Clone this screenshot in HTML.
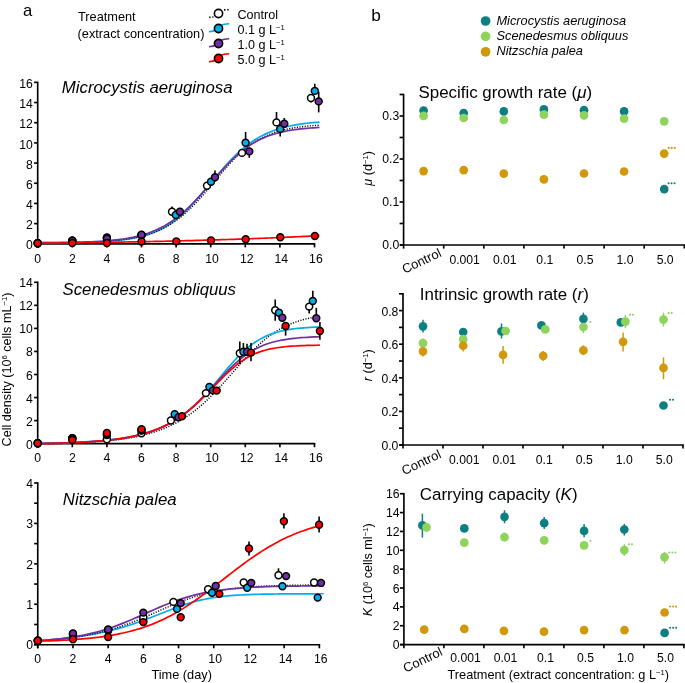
<!DOCTYPE html>
<html><head><meta charset="utf-8"><style>
html,body{margin:0;padding:0;background:#fff;}
svg{display:block;will-change:transform;}
text{font-family:"Liberation Sans", sans-serif;fill:#000;}
</style></head><body>
<svg width="685" height="683" viewBox="0 0 685 683">
<rect width="685" height="683" fill="#fff"/>
<line x1="37.70" y1="81.64" x2="37.70" y2="247.40" stroke="#000" stroke-width="1.65" stroke-linecap="butt"/>
<line x1="34.10" y1="243.80" x2="315.32" y2="243.80" stroke="#000" stroke-width="1.65" />
<line x1="34.10" y1="243.80" x2="37.70" y2="243.80" stroke="#000" stroke-width="1.65" />
<line x1="34.10" y1="223.62" x2="37.70" y2="223.62" stroke="#000" stroke-width="1.65" />
<line x1="34.10" y1="203.44" x2="37.70" y2="203.44" stroke="#000" stroke-width="1.65" />
<line x1="34.10" y1="183.26" x2="37.70" y2="183.26" stroke="#000" stroke-width="1.65" />
<line x1="34.10" y1="163.08" x2="37.70" y2="163.08" stroke="#000" stroke-width="1.65" />
<line x1="34.10" y1="142.90" x2="37.70" y2="142.90" stroke="#000" stroke-width="1.65" />
<line x1="34.10" y1="122.72" x2="37.70" y2="122.72" stroke="#000" stroke-width="1.65" />
<line x1="34.10" y1="102.54" x2="37.70" y2="102.54" stroke="#000" stroke-width="1.65" />
<line x1="34.10" y1="82.36" x2="37.70" y2="82.36" stroke="#000" stroke-width="1.65" />
<text x="32.90" y="249.40" font-size="12.2" text-anchor="end" >0</text>
<text x="32.90" y="229.22" font-size="12.2" text-anchor="end" >2</text>
<text x="32.90" y="209.04" font-size="12.2" text-anchor="end" >4</text>
<text x="32.90" y="188.86" font-size="12.2" text-anchor="end" >6</text>
<text x="32.90" y="168.68" font-size="12.2" text-anchor="end" >8</text>
<text x="32.90" y="148.50" font-size="12.2" text-anchor="end" >10</text>
<text x="32.90" y="128.32" font-size="12.2" text-anchor="end" >12</text>
<text x="32.90" y="108.14" font-size="12.2" text-anchor="end" >14</text>
<text x="32.90" y="87.96" font-size="12.2" text-anchor="end" >16</text>
<line x1="37.70" y1="243.80" x2="37.70" y2="247.40" stroke="#000" stroke-width="1.65" />
<text x="37.70" y="262.50" font-size="12.2" text-anchor="middle" >0</text>
<line x1="72.30" y1="243.80" x2="72.30" y2="247.40" stroke="#000" stroke-width="1.65" />
<text x="72.30" y="262.50" font-size="12.2" text-anchor="middle" >2</text>
<line x1="106.90" y1="243.80" x2="106.90" y2="247.40" stroke="#000" stroke-width="1.65" />
<text x="106.90" y="262.50" font-size="12.2" text-anchor="middle" >4</text>
<line x1="141.50" y1="243.80" x2="141.50" y2="247.40" stroke="#000" stroke-width="1.65" />
<text x="141.50" y="262.50" font-size="12.2" text-anchor="middle" >6</text>
<line x1="176.10" y1="243.80" x2="176.10" y2="247.40" stroke="#000" stroke-width="1.65" />
<text x="176.10" y="262.50" font-size="12.2" text-anchor="middle" >8</text>
<line x1="210.70" y1="243.80" x2="210.70" y2="247.40" stroke="#000" stroke-width="1.65" />
<text x="212.10" y="262.50" font-size="12.2" text-anchor="middle" >10</text>
<line x1="245.30" y1="243.80" x2="245.30" y2="247.40" stroke="#000" stroke-width="1.65" />
<text x="246.70" y="262.50" font-size="12.2" text-anchor="middle" >12</text>
<line x1="279.90" y1="243.80" x2="279.90" y2="247.40" stroke="#000" stroke-width="1.65" />
<text x="281.30" y="262.50" font-size="12.2" text-anchor="middle" >14</text>
<line x1="314.50" y1="243.80" x2="314.50" y2="247.40" stroke="#000" stroke-width="1.65" />
<text x="315.90" y="262.50" font-size="12.2" text-anchor="middle" >16</text>
<line x1="37.70" y1="281.57" x2="37.70" y2="447.25" stroke="#000" stroke-width="1.65" stroke-linecap="butt"/>
<line x1="34.10" y1="443.65" x2="315.32" y2="443.65" stroke="#000" stroke-width="1.65" />
<line x1="34.10" y1="443.65" x2="37.70" y2="443.65" stroke="#000" stroke-width="1.65" />
<line x1="34.10" y1="420.60" x2="37.70" y2="420.60" stroke="#000" stroke-width="1.65" />
<line x1="34.10" y1="397.55" x2="37.70" y2="397.55" stroke="#000" stroke-width="1.65" />
<line x1="34.10" y1="374.50" x2="37.70" y2="374.50" stroke="#000" stroke-width="1.65" />
<line x1="34.10" y1="351.45" x2="37.70" y2="351.45" stroke="#000" stroke-width="1.65" />
<line x1="34.10" y1="328.40" x2="37.70" y2="328.40" stroke="#000" stroke-width="1.65" />
<line x1="34.10" y1="305.35" x2="37.70" y2="305.35" stroke="#000" stroke-width="1.65" />
<line x1="34.10" y1="282.30" x2="37.70" y2="282.30" stroke="#000" stroke-width="1.65" />
<text x="32.90" y="448.65" font-size="12.2" text-anchor="end" >0</text>
<text x="32.90" y="425.60" font-size="12.2" text-anchor="end" >2</text>
<text x="32.90" y="402.55" font-size="12.2" text-anchor="end" >4</text>
<text x="32.90" y="379.50" font-size="12.2" text-anchor="end" >6</text>
<text x="32.90" y="356.45" font-size="12.2" text-anchor="end" >8</text>
<text x="32.90" y="333.40" font-size="12.2" text-anchor="end" >10</text>
<text x="32.90" y="310.35" font-size="12.2" text-anchor="end" >12</text>
<text x="32.90" y="287.30" font-size="12.2" text-anchor="end" >14</text>
<line x1="37.70" y1="443.65" x2="37.70" y2="447.25" stroke="#000" stroke-width="1.65" />
<text x="37.70" y="461.60" font-size="12.2" text-anchor="middle" >0</text>
<line x1="72.30" y1="443.65" x2="72.30" y2="447.25" stroke="#000" stroke-width="1.65" />
<text x="72.30" y="461.60" font-size="12.2" text-anchor="middle" >2</text>
<line x1="106.90" y1="443.65" x2="106.90" y2="447.25" stroke="#000" stroke-width="1.65" />
<text x="106.90" y="461.60" font-size="12.2" text-anchor="middle" >4</text>
<line x1="141.50" y1="443.65" x2="141.50" y2="447.25" stroke="#000" stroke-width="1.65" />
<text x="141.50" y="461.60" font-size="12.2" text-anchor="middle" >6</text>
<line x1="176.10" y1="443.65" x2="176.10" y2="447.25" stroke="#000" stroke-width="1.65" />
<text x="176.10" y="461.60" font-size="12.2" text-anchor="middle" >8</text>
<line x1="210.70" y1="443.65" x2="210.70" y2="447.25" stroke="#000" stroke-width="1.65" />
<text x="212.10" y="461.60" font-size="12.2" text-anchor="middle" >10</text>
<line x1="245.30" y1="443.65" x2="245.30" y2="447.25" stroke="#000" stroke-width="1.65" />
<text x="246.70" y="461.60" font-size="12.2" text-anchor="middle" >12</text>
<line x1="279.90" y1="443.65" x2="279.90" y2="447.25" stroke="#000" stroke-width="1.65" />
<text x="281.30" y="461.60" font-size="12.2" text-anchor="middle" >14</text>
<line x1="314.50" y1="443.65" x2="314.50" y2="447.25" stroke="#000" stroke-width="1.65" />
<text x="315.90" y="461.60" font-size="12.2" text-anchor="middle" >16</text>
<line x1="37.75" y1="482.26" x2="37.75" y2="648.30" stroke="#000" stroke-width="1.65" stroke-linecap="butt"/>
<line x1="34.15" y1="644.70" x2="320.18" y2="644.70" stroke="#000" stroke-width="1.65" />
<line x1="34.15" y1="644.70" x2="37.75" y2="644.70" stroke="#000" stroke-width="1.65" />
<line x1="34.15" y1="624.49" x2="37.75" y2="624.49" stroke="#000" stroke-width="1.65" />
<line x1="34.15" y1="604.27" x2="37.75" y2="604.27" stroke="#000" stroke-width="1.65" />
<line x1="34.15" y1="584.06" x2="37.75" y2="584.06" stroke="#000" stroke-width="1.65" />
<line x1="34.15" y1="563.84" x2="37.75" y2="563.84" stroke="#000" stroke-width="1.65" />
<line x1="34.15" y1="543.62" x2="37.75" y2="543.62" stroke="#000" stroke-width="1.65" />
<line x1="34.15" y1="523.41" x2="37.75" y2="523.41" stroke="#000" stroke-width="1.65" />
<line x1="34.15" y1="503.20" x2="37.75" y2="503.20" stroke="#000" stroke-width="1.65" />
<line x1="34.15" y1="482.98" x2="37.75" y2="482.98" stroke="#000" stroke-width="1.65" />
<text x="32.95" y="649.40" font-size="12.2" text-anchor="end" >0</text>
<text x="32.95" y="608.97" font-size="12.2" text-anchor="end" >1</text>
<text x="32.95" y="568.54" font-size="12.2" text-anchor="end" >2</text>
<text x="32.95" y="528.11" font-size="12.2" text-anchor="end" >3</text>
<text x="32.95" y="487.68" font-size="12.2" text-anchor="end" >4</text>
<line x1="37.75" y1="644.70" x2="37.75" y2="648.30" stroke="#000" stroke-width="1.65" />
<text x="37.75" y="662.80" font-size="12.2" text-anchor="middle" >0</text>
<line x1="72.95" y1="644.70" x2="72.95" y2="648.30" stroke="#000" stroke-width="1.65" />
<text x="72.95" y="662.80" font-size="12.2" text-anchor="middle" >2</text>
<line x1="108.15" y1="644.70" x2="108.15" y2="648.30" stroke="#000" stroke-width="1.65" />
<text x="108.15" y="662.80" font-size="12.2" text-anchor="middle" >4</text>
<line x1="143.35" y1="644.70" x2="143.35" y2="648.30" stroke="#000" stroke-width="1.65" />
<text x="143.35" y="662.80" font-size="12.2" text-anchor="middle" >6</text>
<line x1="178.55" y1="644.70" x2="178.55" y2="648.30" stroke="#000" stroke-width="1.65" />
<text x="178.55" y="662.80" font-size="12.2" text-anchor="middle" >8</text>
<line x1="213.75" y1="644.70" x2="213.75" y2="648.30" stroke="#000" stroke-width="1.65" />
<text x="215.15" y="662.80" font-size="12.2" text-anchor="middle" >10</text>
<line x1="248.95" y1="644.70" x2="248.95" y2="648.30" stroke="#000" stroke-width="1.65" />
<text x="250.35" y="662.80" font-size="12.2" text-anchor="middle" >12</text>
<line x1="284.15" y1="644.70" x2="284.15" y2="648.30" stroke="#000" stroke-width="1.65" />
<text x="285.55" y="662.80" font-size="12.2" text-anchor="middle" >14</text>
<line x1="319.35" y1="644.70" x2="319.35" y2="648.30" stroke="#000" stroke-width="1.65" />
<text x="320.75" y="662.80" font-size="12.2" text-anchor="middle" >16</text>
<path d="M37.70,242.50 L40.87,242.49 L44.03,242.47 L47.20,242.46 L50.37,242.45 L53.53,242.43 L56.70,242.41 L59.86,242.39 L63.03,242.36 L66.20,242.33 L69.36,242.29 L72.53,242.25 L75.70,242.21 L78.86,242.15 L82.03,242.09 L85.19,242.02 L88.36,241.94 L91.53,241.85 L94.69,241.74 L97.86,241.62 L101.03,241.48 L104.19,241.31 L107.36,241.13 L110.52,240.92 L113.69,240.67 L116.86,240.40 L120.02,240.08 L123.19,239.72 L126.36,239.30 L129.52,238.84 L132.69,238.30 L135.86,237.70 L139.02,237.01 L142.19,236.24 L145.35,235.36 L148.52,234.38 L151.69,233.28 L154.85,232.04 L158.02,230.67 L161.19,229.14 L164.35,227.45 L167.52,225.59 L170.68,223.55 L173.85,221.32 L177.02,218.90 L180.18,216.29 L183.35,213.49 L186.52,210.51 L189.68,207.35 L192.85,204.02 L196.01,200.55 L199.18,196.96 L202.35,193.26 L205.51,189.49 L208.68,185.66 L211.85,181.82 L215.01,177.99 L218.18,174.21 L221.34,170.48 L224.51,166.86 L227.68,163.34 L230.84,159.96 L234.01,156.74 L237.18,153.67 L240.34,150.78 L243.51,148.06 L246.68,145.52 L249.84,143.16 L253.01,140.98 L256.17,138.97 L259.34,137.12 L262.51,135.42 L265.67,133.88 L268.84,132.47 L272.01,131.20 L275.17,130.04 L278.34,129.00 L281.50,128.05 L284.67,127.21 L287.84,126.44 L291.00,125.76 L294.17,125.15 L297.34,124.60 L300.50,124.11 L303.67,123.67 L306.83,123.27 L310.00,122.92 L313.17,122.61 L316.33,122.33 L319.50,122.08" fill="none" stroke="#02AEEA" stroke-width="1.7"/>
<path d="M37.70,243.05 L40.87,243.03 L44.03,243.01 L47.20,242.99 L50.37,242.96 L53.53,242.93 L56.70,242.90 L59.86,242.86 L63.03,242.81 L66.20,242.77 L69.36,242.71 L72.53,242.65 L75.70,242.58 L78.86,242.50 L82.03,242.42 L85.19,242.32 L88.36,242.21 L91.53,242.08 L94.69,241.94 L97.86,241.79 L101.03,241.61 L104.19,241.41 L107.36,241.19 L110.52,240.94 L113.69,240.66 L116.86,240.35 L120.02,240.00 L123.19,239.60 L126.36,239.16 L129.52,238.67 L132.69,238.12 L135.86,237.50 L139.02,236.82 L142.19,236.05 L145.35,235.20 L148.52,234.25 L151.69,233.20 L154.85,232.03 L158.02,230.74 L161.19,229.32 L164.35,227.75 L167.52,226.04 L170.68,224.16 L173.85,222.12 L177.02,219.90 L180.18,217.50 L183.35,214.91 L186.52,212.15 L189.68,209.21 L192.85,206.09 L196.01,202.82 L199.18,199.39 L202.35,195.84 L205.51,192.19 L208.68,188.45 L211.85,184.67 L215.01,180.86 L218.18,177.06 L221.34,173.31 L224.51,169.62 L227.68,166.04 L230.84,162.58 L234.01,159.26 L237.18,156.11 L240.34,153.14 L243.51,150.35 L246.68,147.75 L249.84,145.34 L253.01,143.12 L256.17,141.08 L259.34,139.23 L262.51,137.54 L265.67,136.02 L268.84,134.64 L272.01,133.40 L275.17,132.29 L278.34,131.30 L281.50,130.42 L284.67,129.63 L287.84,128.94 L291.00,128.32 L294.17,127.77 L297.34,127.28 L300.50,126.85 L303.67,126.47 L306.83,126.14 L310.00,125.85 L313.17,125.59 L316.33,125.36 L319.50,125.16" fill="none" stroke="#000" stroke-width="1.45" stroke-dasharray="1.1,1.5"/>
<path d="M37.70,242.99 L40.87,242.96 L44.03,242.94 L47.20,242.91 L50.37,242.88 L53.53,242.84 L56.70,242.80 L59.86,242.75 L63.03,242.70 L66.20,242.64 L69.36,242.58 L72.53,242.50 L75.70,242.42 L78.86,242.33 L82.03,242.23 L85.19,242.11 L88.36,241.98 L91.53,241.84 L94.69,241.67 L97.86,241.49 L101.03,241.28 L104.19,241.06 L107.36,240.80 L110.52,240.51 L113.69,240.19 L116.86,239.83 L120.02,239.43 L123.19,238.98 L126.36,238.48 L129.52,237.92 L132.69,237.30 L135.86,236.60 L139.02,235.83 L142.19,234.98 L145.35,234.03 L148.52,232.98 L151.69,231.82 L154.85,230.53 L158.02,229.12 L161.19,227.58 L164.35,225.88 L167.52,224.03 L170.68,222.02 L173.85,219.85 L177.02,217.50 L180.18,214.97 L183.35,212.28 L186.52,209.41 L189.68,206.38 L192.85,203.20 L196.01,199.88 L199.18,196.44 L202.35,192.90 L205.51,189.28 L208.68,185.62 L211.85,181.94 L215.01,178.27 L218.18,174.63 L221.34,171.07 L224.51,167.60 L227.68,164.24 L230.84,161.03 L234.01,157.97 L237.18,155.08 L240.34,152.36 L243.51,149.83 L246.68,147.48 L249.84,145.31 L253.01,143.32 L256.17,141.50 L259.34,139.85 L262.51,138.35 L265.67,137.00 L268.84,135.78 L272.01,134.69 L275.17,133.71 L278.34,132.83 L281.50,132.05 L284.67,131.36 L287.84,130.75 L291.00,130.20 L294.17,129.72 L297.34,129.29 L300.50,128.91 L303.67,128.58 L306.83,128.28 L310.00,128.02 L313.17,127.79 L316.33,127.59 L319.50,127.41" fill="none" stroke="#7030A0" stroke-width="1.7"/>
<path d="M37.70,243.30 L40.87,243.27 L44.03,243.23 L47.20,243.19 L50.37,243.16 L53.53,243.12 L56.70,243.08 L59.86,243.04 L63.03,243.00 L66.20,242.95 L69.36,242.91 L72.53,242.87 L75.70,242.83 L78.86,242.78 L82.03,242.74 L85.19,242.69 L88.36,242.64 L91.53,242.59 L94.69,242.55 L97.86,242.50 L101.03,242.45 L104.19,242.39 L107.36,242.34 L110.52,242.29 L113.69,242.24 L116.86,242.18 L120.02,242.12 L123.19,242.07 L126.36,242.01 L129.52,241.95 L132.69,241.89 L135.86,241.83 L139.02,241.77 L142.19,241.70 L145.35,241.64 L148.52,241.57 L151.69,241.51 L154.85,241.44 L158.02,241.37 L161.19,241.30 L164.35,241.23 L167.52,241.16 L170.68,241.08 L173.85,241.01 L177.02,240.93 L180.18,240.85 L183.35,240.77 L186.52,240.69 L189.68,240.61 L192.85,240.53 L196.01,240.44 L199.18,240.36 L202.35,240.27 L205.51,240.18 L208.68,240.09 L211.85,239.99 L215.01,239.90 L218.18,239.80 L221.34,239.71 L224.51,239.61 L227.68,239.51 L230.84,239.40 L234.01,239.30 L237.18,239.19 L240.34,239.08 L243.51,238.97 L246.68,238.86 L249.84,238.75 L253.01,238.63 L256.17,238.51 L259.34,238.39 L262.51,238.27 L265.67,238.14 L268.84,238.02 L272.01,237.89 L275.17,237.76 L278.34,237.62 L281.50,237.49 L284.67,237.35 L287.84,237.21 L291.00,237.06 L294.17,236.92 L297.34,236.77 L300.50,236.62 L303.67,236.46 L306.83,236.31 L310.00,236.15 L313.17,235.99 L316.33,235.82 L319.50,235.65" fill="none" stroke="#FF0000" stroke-width="1.7"/>
<path d="M37.70,443.98 L40.83,443.93 L43.96,443.87 L47.09,443.81 L50.22,443.75 L53.35,443.68 L56.48,443.60 L59.61,443.52 L62.74,443.43 L65.87,443.33 L69.00,443.22 L72.13,443.11 L75.26,442.98 L78.39,442.85 L81.52,442.70 L84.66,442.54 L87.79,442.36 L90.92,442.17 L94.05,441.97 L97.18,441.74 L100.31,441.50 L103.44,441.24 L106.57,440.95 L109.70,440.64 L112.83,440.31 L115.96,439.94 L119.09,439.55 L122.22,439.12 L125.35,438.66 L128.48,438.15 L131.61,437.61 L134.74,437.02 L137.87,436.38 L141.00,435.68 L144.13,434.93 L147.26,434.12 L150.39,433.25 L153.52,432.30 L156.65,431.27 L159.78,430.17 L162.91,428.98 L166.04,427.70 L169.17,426.32 L172.30,424.84 L175.43,423.24 L178.57,421.54 L181.70,419.71 L184.83,417.76 L187.96,415.68 L191.09,413.47 L194.22,411.13 L197.35,408.64 L200.48,406.02 L203.61,403.27 L206.74,400.38 L209.87,397.36 L213.00,394.23 L216.13,390.98 L219.26,387.64 L222.39,384.21 L225.52,380.72 L228.65,377.18 L231.78,373.61 L234.91,370.03 L238.04,366.48 L241.17,362.95 L244.30,359.49 L247.43,356.12 L250.56,352.84 L253.69,349.68 L256.82,346.65 L259.95,343.77 L263.08,341.04 L266.21,338.47 L269.34,336.07 L272.48,333.83 L275.61,331.75 L278.74,329.84 L281.87,328.08 L285.00,326.47 L288.13,325.00 L291.26,323.67 L294.39,322.46 L297.52,321.37 L300.65,320.38 L303.78,319.50 L306.91,318.70 L310.04,317.99 L313.17,317.36 L316.30,316.79" fill="none" stroke="#000" stroke-width="1.45" stroke-dasharray="1.1,1.5"/>
<path d="M37.70,443.41 L40.87,443.36 L44.04,443.30 L47.21,443.24 L50.38,443.17 L53.55,443.10 L56.72,443.02 L59.90,442.93 L63.07,442.84 L66.24,442.73 L69.41,442.62 L72.58,442.50 L75.75,442.36 L78.92,442.22 L82.09,442.06 L85.26,441.88 L88.43,441.69 L91.60,441.49 L94.77,441.26 L97.94,441.02 L101.12,440.75 L104.29,440.46 L107.46,440.14 L110.63,439.79 L113.80,439.41 L116.97,439.00 L120.14,438.55 L123.31,438.06 L126.48,437.53 L129.65,436.95 L132.82,436.32 L135.99,435.63 L139.17,434.88 L142.34,434.06 L145.51,433.17 L148.68,432.21 L151.85,431.16 L155.02,430.02 L158.19,428.78 L161.36,427.44 L164.53,425.99 L167.70,424.41 L170.87,422.71 L174.04,420.87 L177.21,418.89 L180.39,416.76 L183.56,414.47 L186.73,412.02 L189.90,409.41 L193.07,406.63 L196.24,403.68 L199.41,400.57 L202.58,397.31 L205.75,393.90 L208.92,390.37 L212.09,386.73 L215.26,383.00 L218.43,379.23 L221.61,375.43 L224.78,371.65 L227.95,367.91 L231.12,364.26 L234.29,360.73 L237.46,357.35 L240.63,354.14 L243.80,351.14 L246.97,348.34 L250.14,345.76 L253.31,343.41 L256.48,341.28 L259.66,339.37 L262.83,337.66 L266.00,336.14 L269.17,334.80 L272.34,333.62 L275.51,332.60 L278.68,331.70 L281.85,330.93 L285.02,330.26 L288.19,329.68 L291.36,329.18 L294.53,328.75 L297.70,328.38 L300.88,328.07 L304.05,327.80 L307.22,327.57 L310.39,327.37 L313.56,327.20 L316.73,327.06 L319.90,326.94" fill="none" stroke="#02AEEA" stroke-width="1.7"/>
<path d="M37.70,443.35 L40.87,443.30 L44.04,443.26 L47.21,443.20 L50.38,443.14 L53.55,443.08 L56.72,443.01 L59.90,442.93 L63.07,442.85 L66.24,442.76 L69.41,442.66 L72.58,442.54 L75.75,442.42 L78.92,442.29 L82.09,442.14 L85.26,441.98 L88.43,441.81 L91.60,441.61 L94.77,441.40 L97.94,441.17 L101.12,440.92 L104.29,440.64 L107.46,440.34 L110.63,440.00 L113.80,439.64 L116.97,439.24 L120.14,438.80 L123.31,438.32 L126.48,437.80 L129.65,437.23 L132.82,436.60 L135.99,435.92 L139.17,435.17 L142.34,434.35 L145.51,433.45 L148.68,432.48 L151.85,431.42 L155.02,430.26 L158.19,429.00 L161.36,427.64 L164.53,426.15 L167.70,424.55 L170.87,422.81 L174.04,420.93 L177.21,418.92 L180.39,416.75 L183.56,414.43 L186.73,411.97 L189.90,409.34 L193.07,406.57 L196.24,403.66 L199.41,400.61 L202.58,397.44 L205.75,394.17 L208.92,390.82 L212.09,387.40 L215.26,383.96 L218.43,380.52 L221.61,377.11 L224.78,373.76 L227.95,370.51 L231.12,367.37 L234.29,364.37 L237.46,361.54 L240.63,358.88 L243.80,356.41 L246.97,354.13 L250.14,352.04 L253.31,350.15 L256.48,348.44 L259.66,346.90 L262.83,345.54 L266.00,344.32 L269.17,343.24 L272.34,342.30 L275.51,341.47 L278.68,340.74 L281.85,340.10 L285.02,339.55 L288.19,339.07 L291.36,338.66 L294.53,338.30 L297.70,337.98 L300.88,337.71 L304.05,337.48 L307.22,337.28 L310.39,337.11 L313.56,336.96 L316.73,336.83 L319.90,336.72" fill="none" stroke="#7030A0" stroke-width="1.7"/>
<path d="M37.70,443.81 L40.87,443.75 L44.04,443.69 L47.21,443.62 L50.38,443.55 L53.55,443.46 L56.72,443.37 L59.90,443.28 L63.07,443.17 L66.24,443.06 L69.41,442.93 L72.58,442.80 L75.75,442.65 L78.92,442.49 L82.09,442.32 L85.26,442.13 L88.43,441.93 L91.60,441.71 L94.77,441.46 L97.94,441.20 L101.12,440.92 L104.29,440.61 L107.46,440.27 L110.63,439.91 L113.80,439.51 L116.97,439.08 L120.14,438.61 L123.31,438.10 L126.48,437.55 L129.65,436.95 L132.82,436.30 L135.99,435.59 L139.17,434.82 L142.34,433.99 L145.51,433.09 L148.68,432.11 L151.85,431.05 L155.02,429.91 L158.19,428.67 L161.36,427.33 L164.53,425.88 L167.70,424.31 L170.87,422.63 L174.04,420.82 L177.21,418.87 L180.39,416.79 L183.56,414.56 L186.73,412.19 L189.90,409.67 L193.07,407.00 L196.24,404.20 L199.41,401.27 L202.58,398.22 L205.75,395.07 L208.92,391.84 L212.09,388.56 L215.26,385.25 L218.43,381.95 L221.61,378.70 L224.78,375.52 L227.95,372.46 L231.12,369.54 L234.29,366.78 L237.46,364.21 L240.63,361.85 L243.80,359.69 L246.97,357.74 L250.14,355.99 L253.31,354.45 L256.48,353.08 L259.66,351.89 L262.83,350.86 L266.00,349.96 L269.17,349.20 L272.34,348.54 L275.51,347.97 L278.68,347.49 L281.85,347.09 L285.02,346.74 L288.19,346.45 L291.36,346.21 L294.53,346.00 L297.70,345.83 L300.88,345.68 L304.05,345.56 L307.22,345.45 L310.39,345.37 L313.56,345.30 L316.73,345.23 L319.90,345.18" fill="none" stroke="#FF0000" stroke-width="1.7"/>
<path d="M37.75,640.95 L40.96,640.71 L44.18,640.46 L47.39,640.19 L50.60,639.91 L53.81,639.61 L57.03,639.30 L60.24,638.97 L63.45,638.62 L66.67,638.24 L69.88,637.85 L73.09,637.44 L76.31,637.00 L79.52,636.53 L82.73,636.05 L85.94,635.53 L89.16,634.98 L92.37,634.41 L95.58,633.80 L98.80,633.17 L102.01,632.49 L105.22,631.79 L108.43,631.04 L111.65,630.26 L114.86,629.44 L118.07,628.58 L121.29,627.68 L124.50,626.73 L127.71,625.75 L130.92,624.73 L134.14,623.66 L137.35,622.56 L140.56,621.42 L143.78,620.25 L146.99,619.04 L150.20,617.81 L153.42,616.56 L156.63,615.29 L159.84,614.01 L163.05,612.73 L166.27,611.46 L169.48,610.20 L172.69,608.96 L175.91,607.75 L179.12,606.58 L182.33,605.45 L185.54,604.38 L188.76,603.36 L191.97,602.41 L195.18,601.51 L198.40,600.69 L201.61,599.93 L204.82,599.23 L208.03,598.60 L211.25,598.03 L214.46,597.51 L217.67,597.05 L220.89,596.64 L224.10,596.28 L227.31,595.95 L230.53,595.67 L233.74,595.42 L236.95,595.20 L240.16,595.01 L243.38,594.84 L246.59,594.69 L249.80,594.56 L253.02,594.45 L256.23,594.36 L259.44,594.27 L262.65,594.20 L265.87,594.14 L269.08,594.08 L272.29,594.03 L275.51,593.99 L278.72,593.96 L281.93,593.93 L285.14,593.90 L288.36,593.88 L291.57,593.86 L294.78,593.84 L298.00,593.83 L301.21,593.81 L304.42,593.80 L307.64,593.79 L310.85,593.78 L314.06,593.78 L317.27,593.77 L320.49,593.77 L323.70,593.76" fill="none" stroke="#02AEEA" stroke-width="1.7"/>
<path d="M37.75,640.76 L40.96,640.55 L44.18,640.33 L47.39,640.09 L50.60,639.83 L53.81,639.55 L57.03,639.25 L60.24,638.93 L63.45,638.58 L66.67,638.21 L69.88,637.81 L73.09,637.38 L76.31,636.92 L79.52,636.43 L82.73,635.91 L85.94,635.34 L89.16,634.74 L92.37,634.10 L95.58,633.41 L98.80,632.68 L102.01,631.91 L105.22,631.09 L108.43,630.22 L111.65,629.30 L114.86,628.34 L118.07,627.32 L121.29,626.25 L124.50,625.14 L127.71,623.97 L130.92,622.76 L134.14,621.51 L137.35,620.22 L140.56,618.89 L143.78,617.54 L146.99,616.15 L150.20,614.75 L153.42,613.33 L156.63,611.90 L159.84,610.48 L163.05,609.06 L166.27,607.65 L169.48,606.27 L172.69,604.91 L175.91,603.59 L179.12,602.31 L182.33,601.07 L185.54,599.88 L188.76,598.75 L191.97,597.67 L195.18,596.64 L198.40,595.67 L201.61,594.77 L204.82,593.92 L208.03,593.12 L211.25,592.39 L214.46,591.70 L217.67,591.07 L220.89,590.49 L224.10,589.95 L227.31,589.46 L230.53,589.02 L233.74,588.61 L236.95,588.23 L240.16,587.89 L243.38,587.58 L246.59,587.30 L249.80,587.05 L253.02,586.82 L256.23,586.61 L259.44,586.42 L262.65,586.25 L265.87,586.10 L269.08,585.96 L272.29,585.84 L275.51,585.73 L278.72,585.63 L281.93,585.54 L285.14,585.46 L288.36,585.38 L291.57,585.32 L294.78,585.26 L298.00,585.21 L301.21,585.16 L304.42,585.11 L307.64,585.08 L310.85,585.04 L314.06,585.01 L317.27,584.98 L320.49,584.96 L323.70,584.94" fill="none" stroke="#000" stroke-width="1.45" stroke-dasharray="1.1,1.5"/>
<path d="M37.75,640.68 L40.96,640.47 L44.18,640.23 L47.39,639.98 L50.60,639.70 L53.81,639.40 L57.03,639.08 L60.24,638.72 L63.45,638.34 L66.67,637.92 L69.88,637.46 L73.09,636.98 L76.31,636.45 L79.52,635.88 L82.73,635.26 L85.94,634.60 L89.16,633.89 L92.37,633.14 L95.58,632.33 L98.80,631.46 L102.01,630.55 L105.22,629.57 L108.43,628.55 L111.65,627.47 L114.86,626.33 L118.07,625.15 L121.29,623.91 L124.50,622.63 L127.71,621.31 L130.92,619.96 L134.14,618.57 L137.35,617.15 L140.56,615.72 L143.78,614.27 L146.99,612.83 L150.20,611.38 L153.42,609.95 L156.63,608.53 L159.84,607.14 L163.05,605.78 L166.27,604.46 L169.48,603.18 L172.69,601.95 L175.91,600.77 L179.12,599.65 L182.33,598.58 L185.54,597.57 L188.76,596.62 L191.97,595.72 L195.18,594.88 L198.40,594.10 L201.61,593.38 L204.82,592.70 L208.03,592.08 L211.25,591.50 L214.46,590.98 L217.67,590.49 L220.89,590.04 L224.10,589.64 L227.31,589.26 L230.53,588.92 L233.74,588.61 L236.95,588.33 L240.16,588.07 L243.38,587.84 L246.59,587.63 L249.80,587.44 L253.02,587.26 L256.23,587.11 L259.44,586.96 L262.65,586.84 L265.87,586.72 L269.08,586.61 L272.29,586.52 L275.51,586.43 L278.72,586.36 L281.93,586.29 L285.14,586.22 L288.36,586.17 L291.57,586.12 L294.78,586.07 L298.00,586.03 L301.21,585.99 L304.42,585.96 L307.64,585.93 L310.85,585.90 L314.06,585.88 L317.27,585.85 L320.49,585.83 L323.70,585.82" fill="none" stroke="#7030A0" stroke-width="1.7"/>
<path d="M37.75,641.19 L40.91,641.10 L44.08,641.01 L47.24,640.90 L50.40,640.79 L53.57,640.66 L56.73,640.53 L59.89,640.38 L63.06,640.22 L66.22,640.05 L69.38,639.86 L72.55,639.66 L75.71,639.44 L78.88,639.20 L82.04,638.94 L85.20,638.66 L88.37,638.36 L91.53,638.04 L94.69,637.68 L97.86,637.31 L101.02,636.90 L104.18,636.46 L107.35,635.98 L110.51,635.47 L113.67,634.92 L116.84,634.33 L120.00,633.70 L123.16,633.02 L126.33,632.29 L129.49,631.52 L132.65,630.68 L135.82,629.80 L138.98,628.85 L142.14,627.84 L145.31,626.77 L148.47,625.63 L151.64,624.43 L154.80,623.16 L157.96,621.81 L161.13,620.39 L164.29,618.90 L167.45,617.33 L170.62,615.69 L173.78,613.97 L176.94,612.18 L180.11,610.32 L183.27,608.38 L186.43,606.38 L189.60,604.31 L192.76,602.17 L195.92,599.98 L199.09,597.73 L202.25,595.43 L205.41,593.09 L208.58,590.71 L211.74,588.30 L214.91,585.87 L218.07,583.41 L221.23,580.95 L224.40,578.48 L227.56,576.01 L230.72,573.55 L233.89,571.11 L237.05,568.70 L240.21,566.31 L243.38,563.96 L246.54,561.65 L249.70,559.39 L252.87,557.18 L256.03,555.02 L259.19,552.93 L262.36,550.89 L265.52,548.93 L268.68,547.02 L271.85,545.19 L275.01,543.43 L278.17,541.74 L281.34,540.11 L284.50,538.56 L287.67,537.08 L290.83,535.67 L293.99,534.32 L297.16,533.05 L300.32,531.83 L303.48,530.68 L306.65,529.59 L309.81,528.56 L312.97,527.59 L316.14,526.67 L319.30,525.80" fill="none" stroke="#FF0000" stroke-width="1.7"/>
<circle cx="37.70" cy="243.20" r="3.45" fill="#fff" stroke="#000" stroke-width="1.5"/>
<circle cx="37.70" cy="243.20" r="3.45" fill="#02AEEA" stroke="#000" stroke-width="1.5"/>
<circle cx="37.70" cy="243.20" r="3.45" fill="#7030A0" stroke="#000" stroke-width="1.5"/>
<circle cx="72.30" cy="240.60" r="3.45" fill="#fff" stroke="#000" stroke-width="1.5"/>
<circle cx="72.30" cy="240.60" r="3.45" fill="#02AEEA" stroke="#000" stroke-width="1.5"/>
<circle cx="72.30" cy="240.60" r="3.45" fill="#7030A0" stroke="#000" stroke-width="1.5"/>
<circle cx="106.90" cy="237.40" r="3.45" fill="#fff" stroke="#000" stroke-width="1.5"/>
<circle cx="106.90" cy="238.00" r="3.45" fill="#02AEEA" stroke="#000" stroke-width="1.5"/>
<circle cx="106.90" cy="238.80" r="3.45" fill="#7030A0" stroke="#000" stroke-width="1.5"/>
<circle cx="141.50" cy="235.00" r="3.45" fill="#fff" stroke="#000" stroke-width="1.5"/>
<circle cx="141.50" cy="235.20" r="3.45" fill="#02AEEA" stroke="#000" stroke-width="1.5"/>
<circle cx="141.50" cy="234.80" r="3.45" fill="#7030A0" stroke="#000" stroke-width="1.5"/>
<line x1="172.00" y1="206.40" x2="172.00" y2="211.70" stroke="#000" stroke-width="1.6" />
<circle cx="172.00" cy="211.70" r="3.45" fill="#fff" stroke="#000" stroke-width="1.5"/>
<circle cx="175.80" cy="215.00" r="3.45" fill="#02AEEA" stroke="#000" stroke-width="1.5"/>
<circle cx="179.90" cy="211.70" r="3.45" fill="#7030A0" stroke="#000" stroke-width="1.5"/>
<circle cx="207.00" cy="185.80" r="3.45" fill="#fff" stroke="#000" stroke-width="1.5"/>
<circle cx="211.00" cy="181.80" r="3.45" fill="#02AEEA" stroke="#000" stroke-width="1.5"/>
<line x1="215.00" y1="170.50" x2="215.00" y2="177.20" stroke="#000" stroke-width="1.6" />
<circle cx="215.00" cy="177.20" r="3.45" fill="#7030A0" stroke="#000" stroke-width="1.5"/>
<circle cx="242.00" cy="152.90" r="3.45" fill="#fff" stroke="#000" stroke-width="1.5"/>
<line x1="245.60" y1="131.90" x2="245.60" y2="142.80" stroke="#000" stroke-width="1.6" />
<circle cx="245.60" cy="142.80" r="3.45" fill="#02AEEA" stroke="#000" stroke-width="1.5"/>
<line x1="249.30" y1="151.40" x2="249.30" y2="157.80" stroke="#000" stroke-width="1.6" />
<circle cx="249.30" cy="151.40" r="3.45" fill="#7030A0" stroke="#000" stroke-width="1.5"/>
<line x1="276.50" y1="112.00" x2="276.50" y2="122.40" stroke="#000" stroke-width="1.6" />
<circle cx="276.50" cy="122.40" r="3.45" fill="#fff" stroke="#000" stroke-width="1.5"/>
<line x1="280.20" y1="128.90" x2="280.20" y2="136.50" stroke="#000" stroke-width="1.6" />
<circle cx="280.20" cy="128.90" r="3.45" fill="#02AEEA" stroke="#000" stroke-width="1.5"/>
<line x1="284.30" y1="118.00" x2="284.30" y2="123.80" stroke="#000" stroke-width="1.6" />
<circle cx="284.30" cy="123.80" r="3.45" fill="#7030A0" stroke="#000" stroke-width="1.5"/>
<line x1="311.00" y1="98.00" x2="311.00" y2="102.50" stroke="#000" stroke-width="1.6" />
<circle cx="311.00" cy="98.00" r="3.45" fill="#fff" stroke="#000" stroke-width="1.5"/>
<line x1="314.80" y1="83.70" x2="314.80" y2="90.90" stroke="#000" stroke-width="1.6" />
<circle cx="314.80" cy="90.90" r="3.45" fill="#02AEEA" stroke="#000" stroke-width="1.5"/>
<line x1="318.70" y1="91.50" x2="318.70" y2="101.40" stroke="#000" stroke-width="1.6" />
<line x1="318.70" y1="101.40" x2="318.70" y2="112.40" stroke="#000" stroke-width="1.6" />
<circle cx="318.70" cy="101.40" r="3.45" fill="#7030A0" stroke="#000" stroke-width="1.5"/>
<circle cx="37.70" cy="243.20" r="3.45" fill="#FF0000" stroke="#000" stroke-width="1.5"/>
<circle cx="72.30" cy="243.00" r="3.45" fill="#FF0000" stroke="#000" stroke-width="1.5"/>
<circle cx="106.90" cy="243.00" r="3.45" fill="#FF0000" stroke="#000" stroke-width="1.5"/>
<circle cx="141.50" cy="241.50" r="3.45" fill="#FF0000" stroke="#000" stroke-width="1.5"/>
<circle cx="176.30" cy="241.40" r="3.45" fill="#FF0000" stroke="#000" stroke-width="1.5"/>
<circle cx="211.00" cy="240.50" r="3.45" fill="#FF0000" stroke="#000" stroke-width="1.5"/>
<circle cx="245.70" cy="239.20" r="3.45" fill="#FF0000" stroke="#000" stroke-width="1.5"/>
<circle cx="280.30" cy="237.20" r="3.45" fill="#FF0000" stroke="#000" stroke-width="1.5"/>
<circle cx="314.90" cy="236.00" r="3.45" fill="#FF0000" stroke="#000" stroke-width="1.5"/>
<circle cx="37.70" cy="443.20" r="3.45" fill="#fff" stroke="#000" stroke-width="1.5"/>
<circle cx="37.70" cy="443.20" r="3.45" fill="#02AEEA" stroke="#000" stroke-width="1.5"/>
<circle cx="37.70" cy="443.20" r="3.45" fill="#7030A0" stroke="#000" stroke-width="1.5"/>
<circle cx="72.30" cy="438.40" r="3.45" fill="#fff" stroke="#000" stroke-width="1.5"/>
<circle cx="72.30" cy="438.30" r="3.45" fill="#02AEEA" stroke="#000" stroke-width="1.5"/>
<circle cx="72.30" cy="438.20" r="3.45" fill="#7030A0" stroke="#000" stroke-width="1.5"/>
<circle cx="106.90" cy="439.20" r="3.45" fill="#fff" stroke="#000" stroke-width="1.5"/>
<circle cx="106.90" cy="435.00" r="3.45" fill="#02AEEA" stroke="#000" stroke-width="1.5"/>
<circle cx="106.90" cy="434.50" r="3.45" fill="#7030A0" stroke="#000" stroke-width="1.5"/>
<circle cx="141.50" cy="433.20" r="3.45" fill="#fff" stroke="#000" stroke-width="1.5"/>
<circle cx="141.50" cy="430.50" r="3.45" fill="#02AEEA" stroke="#000" stroke-width="1.5"/>
<circle cx="141.50" cy="430.20" r="3.45" fill="#7030A0" stroke="#000" stroke-width="1.5"/>
<circle cx="170.90" cy="420.50" r="3.45" fill="#fff" stroke="#000" stroke-width="1.5"/>
<circle cx="174.70" cy="414.30" r="3.45" fill="#02AEEA" stroke="#000" stroke-width="1.5"/>
<circle cx="178.40" cy="417.20" r="3.45" fill="#7030A0" stroke="#000" stroke-width="1.5"/>
<circle cx="205.90" cy="393.10" r="3.45" fill="#fff" stroke="#000" stroke-width="1.5"/>
<circle cx="209.40" cy="386.90" r="3.45" fill="#02AEEA" stroke="#000" stroke-width="1.5"/>
<circle cx="212.90" cy="390.40" r="3.45" fill="#7030A0" stroke="#000" stroke-width="1.5"/>
<line x1="239.80" y1="341.60" x2="239.80" y2="353.30" stroke="#000" stroke-width="1.6" />
<line x1="239.80" y1="353.30" x2="239.80" y2="364.20" stroke="#000" stroke-width="1.6" />
<circle cx="239.80" cy="353.30" r="3.45" fill="#fff" stroke="#000" stroke-width="1.5"/>
<line x1="243.40" y1="343.00" x2="243.40" y2="351.80" stroke="#000" stroke-width="1.6" />
<circle cx="243.40" cy="351.80" r="3.45" fill="#02AEEA" stroke="#000" stroke-width="1.5"/>
<line x1="247.00" y1="343.80" x2="247.00" y2="351.80" stroke="#000" stroke-width="1.6" />
<circle cx="247.00" cy="351.80" r="3.45" fill="#7030A0" stroke="#000" stroke-width="1.5"/>
<line x1="275.20" y1="299.50" x2="275.20" y2="310.20" stroke="#000" stroke-width="1.6" />
<line x1="275.20" y1="310.20" x2="275.20" y2="320.70" stroke="#000" stroke-width="1.6" />
<circle cx="275.20" cy="310.20" r="3.45" fill="#fff" stroke="#000" stroke-width="1.5"/>
<circle cx="279.00" cy="312.80" r="3.45" fill="#02AEEA" stroke="#000" stroke-width="1.5"/>
<circle cx="282.30" cy="317.80" r="3.45" fill="#7030A0" stroke="#000" stroke-width="1.5"/>
<line x1="309.20" y1="306.60" x2="309.20" y2="313.50" stroke="#000" stroke-width="1.6" />
<circle cx="309.20" cy="306.60" r="3.45" fill="#fff" stroke="#000" stroke-width="1.5"/>
<line x1="312.80" y1="290.70" x2="312.80" y2="301.00" stroke="#000" stroke-width="1.6" />
<circle cx="312.80" cy="301.00" r="3.45" fill="#02AEEA" stroke="#000" stroke-width="1.5"/>
<line x1="316.30" y1="307.90" x2="316.30" y2="318.20" stroke="#000" stroke-width="1.6" />
<circle cx="316.30" cy="318.20" r="3.45" fill="#7030A0" stroke="#000" stroke-width="1.5"/>
<circle cx="37.70" cy="443.20" r="3.45" fill="#FF0000" stroke="#000" stroke-width="1.5"/>
<circle cx="72.30" cy="440.00" r="3.45" fill="#FF0000" stroke="#000" stroke-width="1.5"/>
<circle cx="106.90" cy="433.00" r="3.45" fill="#FF0000" stroke="#000" stroke-width="1.5"/>
<circle cx="141.50" cy="429.30" r="3.45" fill="#FF0000" stroke="#000" stroke-width="1.5"/>
<circle cx="182.00" cy="416.20" r="3.45" fill="#FF0000" stroke="#000" stroke-width="1.5"/>
<circle cx="216.70" cy="390.60" r="3.45" fill="#FF0000" stroke="#000" stroke-width="1.5"/>
<line x1="251.00" y1="343.00" x2="251.00" y2="352.60" stroke="#000" stroke-width="1.6" />
<line x1="251.00" y1="352.60" x2="251.00" y2="361.30" stroke="#000" stroke-width="1.6" />
<circle cx="251.00" cy="352.60" r="3.45" fill="#FF0000" stroke="#000" stroke-width="1.5"/>
<line x1="285.60" y1="326.00" x2="285.60" y2="335.60" stroke="#000" stroke-width="1.6" />
<circle cx="285.60" cy="326.00" r="3.45" fill="#FF0000" stroke="#000" stroke-width="1.5"/>
<line x1="319.90" y1="322.00" x2="319.90" y2="331.00" stroke="#000" stroke-width="1.6" />
<line x1="319.90" y1="331.00" x2="319.90" y2="339.80" stroke="#000" stroke-width="1.6" />
<circle cx="319.90" cy="331.00" r="3.45" fill="#FF0000" stroke="#000" stroke-width="1.5"/>
<circle cx="37.75" cy="640.60" r="3.45" fill="#fff" stroke="#000" stroke-width="1.5"/>
<circle cx="37.75" cy="640.60" r="3.45" fill="#02AEEA" stroke="#000" stroke-width="1.5"/>
<circle cx="37.75" cy="640.60" r="3.45" fill="#7030A0" stroke="#000" stroke-width="1.5"/>
<circle cx="72.95" cy="634.50" r="3.45" fill="#fff" stroke="#000" stroke-width="1.5"/>
<circle cx="72.95" cy="634.00" r="3.45" fill="#02AEEA" stroke="#000" stroke-width="1.5"/>
<circle cx="72.95" cy="633.50" r="3.45" fill="#7030A0" stroke="#000" stroke-width="1.5"/>
<circle cx="108.15" cy="630.50" r="3.45" fill="#fff" stroke="#000" stroke-width="1.5"/>
<circle cx="108.15" cy="630.00" r="3.45" fill="#02AEEA" stroke="#000" stroke-width="1.5"/>
<circle cx="108.15" cy="629.40" r="3.45" fill="#7030A0" stroke="#000" stroke-width="1.5"/>
<circle cx="143.30" cy="621.50" r="3.45" fill="#02AEEA" stroke="#000" stroke-width="1.5"/>
<circle cx="143.30" cy="617.40" r="3.45" fill="#fff" stroke="#000" stroke-width="1.5"/>
<circle cx="143.30" cy="612.60" r="3.45" fill="#7030A0" stroke="#000" stroke-width="1.5"/>
<circle cx="173.40" cy="601.90" r="3.45" fill="#fff" stroke="#000" stroke-width="1.5"/>
<circle cx="177.00" cy="608.90" r="3.45" fill="#02AEEA" stroke="#000" stroke-width="1.5"/>
<circle cx="180.70" cy="603.10" r="3.45" fill="#7030A0" stroke="#000" stroke-width="1.5"/>
<circle cx="208.10" cy="589.20" r="3.45" fill="#fff" stroke="#000" stroke-width="1.5"/>
<circle cx="212.00" cy="592.80" r="3.45" fill="#02AEEA" stroke="#000" stroke-width="1.5"/>
<circle cx="215.70" cy="586.00" r="3.45" fill="#7030A0" stroke="#000" stroke-width="1.5"/>
<circle cx="243.70" cy="582.50" r="3.45" fill="#fff" stroke="#000" stroke-width="1.5"/>
<circle cx="247.20" cy="587.70" r="3.45" fill="#02AEEA" stroke="#000" stroke-width="1.5"/>
<circle cx="251.20" cy="582.90" r="3.45" fill="#7030A0" stroke="#000" stroke-width="1.5"/>
<line x1="278.50" y1="568.30" x2="278.50" y2="575.20" stroke="#000" stroke-width="1.6" />
<circle cx="278.50" cy="575.20" r="3.45" fill="#fff" stroke="#000" stroke-width="1.5"/>
<circle cx="282.40" cy="586.20" r="3.45" fill="#02AEEA" stroke="#000" stroke-width="1.5"/>
<circle cx="286.10" cy="576.10" r="3.45" fill="#7030A0" stroke="#000" stroke-width="1.5"/>
<circle cx="314.10" cy="582.50" r="3.45" fill="#fff" stroke="#000" stroke-width="1.5"/>
<circle cx="317.70" cy="597.60" r="3.45" fill="#02AEEA" stroke="#000" stroke-width="1.5"/>
<circle cx="321.00" cy="582.90" r="3.45" fill="#7030A0" stroke="#000" stroke-width="1.5"/>
<circle cx="37.75" cy="640.80" r="3.45" fill="#FF0000" stroke="#000" stroke-width="1.5"/>
<circle cx="72.95" cy="639.30" r="3.45" fill="#FF0000" stroke="#000" stroke-width="1.5"/>
<circle cx="108.15" cy="637.00" r="3.45" fill="#FF0000" stroke="#000" stroke-width="1.5"/>
<circle cx="143.30" cy="622.10" r="3.45" fill="#FF0000" stroke="#000" stroke-width="1.5"/>
<circle cx="180.70" cy="617.20" r="3.45" fill="#FF0000" stroke="#000" stroke-width="1.5"/>
<circle cx="219.30" cy="593.90" r="3.45" fill="#FF0000" stroke="#000" stroke-width="1.5"/>
<line x1="249.00" y1="541.60" x2="249.00" y2="548.50" stroke="#000" stroke-width="1.6" />
<line x1="249.00" y1="548.50" x2="249.00" y2="555.50" stroke="#000" stroke-width="1.6" />
<circle cx="249.00" cy="548.50" r="3.45" fill="#FF0000" stroke="#000" stroke-width="1.5"/>
<line x1="283.90" y1="513.30" x2="283.90" y2="521.20" stroke="#000" stroke-width="1.6" />
<line x1="283.90" y1="521.20" x2="283.90" y2="528.40" stroke="#000" stroke-width="1.6" />
<circle cx="283.90" cy="521.20" r="3.45" fill="#FF0000" stroke="#000" stroke-width="1.5"/>
<line x1="319.10" y1="516.60" x2="319.10" y2="524.80" stroke="#000" stroke-width="1.6" />
<line x1="319.10" y1="524.80" x2="319.10" y2="532.40" stroke="#000" stroke-width="1.6" />
<circle cx="319.10" cy="524.80" r="3.45" fill="#FF0000" stroke="#000" stroke-width="1.5"/>
<text x="23.1" y="15.7" font-size="16.6">a</text>
<text x="78.00" y="21.30" font-size="12.75" text-anchor="start" >Treatment</text>
<text x="77.60" y="37.70" font-size="12.75" text-anchor="start" >(extract concentration)</text>
<path d="M209.2,17.4 L213.5,17.0" stroke="#000" stroke-width="1.6" stroke-dasharray="1.4,1.8" fill="none"/>
<path d="M224.0,9.9 L228.6,9.7" stroke="#000" stroke-width="1.6" stroke-dasharray="1.4,1.8" fill="none"/>
<circle cx="218.5" cy="13.5" r="4.1" fill="#fff" stroke="#000" stroke-width="1.6"/>
<text x="237.50" y="18.80" font-size="12.6" text-anchor="start" >Control</text>
<path d="M208.9,31.7 C212,31.5 214,31.1 216,30.0 L221,25.2 C223,24.3 226,23.9 229.2,23.7" stroke="#02AEEA" stroke-width="1.6" fill="none"/>
<circle cx="218.5" cy="28.5" r="4.1" fill="#02AEEA" stroke="#000" stroke-width="1.6"/>
<text x="237.50" y="33.80" font-size="12.6" text-anchor="start" >0.1 g L<tspan dy="-3.9" font-size="7.7">−1</tspan></text>
<path d="M208.9,46.7 C212,46.5 214,46.1 216,45.0 L221,40.2 C223,39.3 226,38.9 229.2,38.7" stroke="#7030A0" stroke-width="1.6" fill="none"/>
<circle cx="218.5" cy="43.5" r="4.1" fill="#7030A0" stroke="#000" stroke-width="1.6"/>
<text x="237.50" y="48.80" font-size="12.6" text-anchor="start" >1.0 g L<tspan dy="-3.9" font-size="7.7">−1</tspan></text>
<path d="M208.9,61.7 C212,61.5 214,61.1 216,60.0 L221,55.2 C223,54.3 226,53.9 229.2,53.7" stroke="#FF0000" stroke-width="1.6" fill="none"/>
<circle cx="218.5" cy="58.5" r="4.1" fill="#FF0000" stroke="#000" stroke-width="1.6"/>
<text x="237.50" y="63.80" font-size="12.6" text-anchor="start" >5.0 g L<tspan dy="-3.9" font-size="7.7">−1</tspan></text>
<text x="11.0" y="369.5" font-size="12.6" text-anchor="middle" transform="rotate(-90 11.0 369.5)">Cell density (10<tspan dy="-3.9" font-size="7.7">6</tspan><tspan dy="3.9"> cells mL</tspan><tspan dy="-3.9" font-size="7.7">−1</tspan><tspan dy="3.9">)</tspan></text>
<text x="61.80" y="93.10" font-size="16.8" text-anchor="start" font-style="italic" >Microcystis aeruginosa</text>
<text x="62.50" y="294.80" font-size="16.8" text-anchor="start" font-style="italic" >Scenedesmus obliquus</text>
<text x="62.80" y="504.50" font-size="16.8" text-anchor="start" font-style="italic" >Nitzschia palea</text>
<text x="181.70" y="678.80" font-size="12.75" text-anchor="middle" >Time (day)</text>
<line x1="403.60" y1="93.77" x2="403.60" y2="248.60" stroke="#000" stroke-width="1.65" />
<line x1="400.00" y1="245.00" x2="685.12" y2="245.00" stroke="#000" stroke-width="1.65" />
<line x1="399.60" y1="245.00" x2="403.60" y2="245.00" stroke="#000" stroke-width="1.65" />
<line x1="399.60" y1="223.50" x2="403.60" y2="223.50" stroke="#000" stroke-width="1.65" />
<line x1="399.60" y1="202.00" x2="403.60" y2="202.00" stroke="#000" stroke-width="1.65" />
<line x1="399.60" y1="180.50" x2="403.60" y2="180.50" stroke="#000" stroke-width="1.65" />
<line x1="399.60" y1="159.00" x2="403.60" y2="159.00" stroke="#000" stroke-width="1.65" />
<line x1="399.60" y1="137.50" x2="403.60" y2="137.50" stroke="#000" stroke-width="1.65" />
<line x1="399.60" y1="116.00" x2="403.60" y2="116.00" stroke="#000" stroke-width="1.65" />
<line x1="399.60" y1="94.50" x2="403.60" y2="94.50" stroke="#000" stroke-width="1.65" />
<text x="399.20" y="249.40" font-size="12.2" text-anchor="end" >0.0</text>
<text x="399.20" y="206.40" font-size="12.2" text-anchor="end" >0.1</text>
<text x="399.20" y="163.40" font-size="12.2" text-anchor="end" >0.2</text>
<text x="399.20" y="120.40" font-size="12.2" text-anchor="end" >0.3</text>
<line x1="443.70" y1="245.00" x2="443.70" y2="248.60" stroke="#000" stroke-width="1.65" />
<line x1="483.80" y1="245.00" x2="483.80" y2="248.60" stroke="#000" stroke-width="1.65" />
<line x1="523.90" y1="245.00" x2="523.90" y2="248.60" stroke="#000" stroke-width="1.65" />
<line x1="564.00" y1="245.00" x2="564.00" y2="248.60" stroke="#000" stroke-width="1.65" />
<line x1="604.10" y1="245.00" x2="604.10" y2="248.60" stroke="#000" stroke-width="1.65" />
<line x1="644.20" y1="245.00" x2="644.20" y2="248.60" stroke="#000" stroke-width="1.65" />
<line x1="684.30" y1="245.00" x2="684.30" y2="248.60" stroke="#000" stroke-width="1.65" />
<text x="464.65" y="263.70" font-size="12.2" text-anchor="middle" >0.001</text>
<text x="504.75" y="263.70" font-size="12.2" text-anchor="middle" >0.01</text>
<text x="544.85" y="263.70" font-size="12.2" text-anchor="middle" >0.1</text>
<text x="584.95" y="263.70" font-size="12.2" text-anchor="middle" >0.5</text>
<text x="625.05" y="263.70" font-size="12.2" text-anchor="middle" >1.0</text>
<text x="665.15" y="263.70" font-size="12.2" text-anchor="middle" >5.0</text>
<text x="442.3" y="255.9" font-size="12.95" text-anchor="end" transform="rotate(-25.5 442.3 255.9)">Control</text>
<line x1="403.00" y1="293.07" x2="403.00" y2="448.60" stroke="#000" stroke-width="1.65" />
<line x1="399.40" y1="445.00" x2="683.83" y2="445.00" stroke="#000" stroke-width="1.65" />
<line x1="399.00" y1="445.00" x2="403.00" y2="445.00" stroke="#000" stroke-width="1.65" />
<line x1="399.00" y1="428.20" x2="403.00" y2="428.20" stroke="#000" stroke-width="1.65" />
<line x1="399.00" y1="411.40" x2="403.00" y2="411.40" stroke="#000" stroke-width="1.65" />
<line x1="399.00" y1="394.60" x2="403.00" y2="394.60" stroke="#000" stroke-width="1.65" />
<line x1="399.00" y1="377.80" x2="403.00" y2="377.80" stroke="#000" stroke-width="1.65" />
<line x1="399.00" y1="361.00" x2="403.00" y2="361.00" stroke="#000" stroke-width="1.65" />
<line x1="399.00" y1="344.20" x2="403.00" y2="344.20" stroke="#000" stroke-width="1.65" />
<line x1="399.00" y1="327.40" x2="403.00" y2="327.40" stroke="#000" stroke-width="1.65" />
<line x1="399.00" y1="310.60" x2="403.00" y2="310.60" stroke="#000" stroke-width="1.65" />
<line x1="399.00" y1="293.80" x2="403.00" y2="293.80" stroke="#000" stroke-width="1.65" />
<text x="398.40" y="450.00" font-size="12.2" text-anchor="end" >0.0</text>
<text x="398.40" y="416.40" font-size="12.2" text-anchor="end" >0.2</text>
<text x="398.40" y="382.80" font-size="12.2" text-anchor="end" >0.4</text>
<text x="398.40" y="349.20" font-size="12.2" text-anchor="end" >0.6</text>
<text x="398.40" y="315.60" font-size="12.2" text-anchor="end" >0.8</text>
<line x1="443.00" y1="445.00" x2="443.00" y2="448.60" stroke="#000" stroke-width="1.65" />
<line x1="483.00" y1="445.00" x2="483.00" y2="448.60" stroke="#000" stroke-width="1.65" />
<line x1="523.00" y1="445.00" x2="523.00" y2="448.60" stroke="#000" stroke-width="1.65" />
<line x1="563.00" y1="445.00" x2="563.00" y2="448.60" stroke="#000" stroke-width="1.65" />
<line x1="603.00" y1="445.00" x2="603.00" y2="448.60" stroke="#000" stroke-width="1.65" />
<line x1="643.00" y1="445.00" x2="643.00" y2="448.60" stroke="#000" stroke-width="1.65" />
<line x1="683.00" y1="445.00" x2="683.00" y2="448.60" stroke="#000" stroke-width="1.65" />
<text x="464.30" y="464.30" font-size="12.2" text-anchor="middle" >0.001</text>
<text x="504.30" y="464.30" font-size="12.2" text-anchor="middle" >0.01</text>
<text x="544.30" y="464.30" font-size="12.2" text-anchor="middle" >0.1</text>
<text x="584.30" y="464.30" font-size="12.2" text-anchor="middle" >0.5</text>
<text x="624.30" y="464.30" font-size="12.2" text-anchor="middle" >1.0</text>
<text x="664.30" y="464.30" font-size="12.2" text-anchor="middle" >5.0</text>
<text x="442.0" y="457.2" font-size="12.95" text-anchor="end" transform="rotate(-25.5 442.0 457.2)">Control</text>
<line x1="403.90" y1="493.00" x2="403.90" y2="648.20" stroke="#000" stroke-width="1.65" />
<line x1="400.30" y1="644.60" x2="684.73" y2="644.60" stroke="#000" stroke-width="1.65" />
<line x1="399.90" y1="644.60" x2="403.90" y2="644.60" stroke="#000" stroke-width="1.65" />
<line x1="399.90" y1="625.74" x2="403.90" y2="625.74" stroke="#000" stroke-width="1.65" />
<line x1="399.90" y1="606.88" x2="403.90" y2="606.88" stroke="#000" stroke-width="1.65" />
<line x1="399.90" y1="588.02" x2="403.90" y2="588.02" stroke="#000" stroke-width="1.65" />
<line x1="399.90" y1="569.16" x2="403.90" y2="569.16" stroke="#000" stroke-width="1.65" />
<line x1="399.90" y1="550.30" x2="403.90" y2="550.30" stroke="#000" stroke-width="1.65" />
<line x1="399.90" y1="531.44" x2="403.90" y2="531.44" stroke="#000" stroke-width="1.65" />
<line x1="399.90" y1="512.58" x2="403.90" y2="512.58" stroke="#000" stroke-width="1.65" />
<line x1="399.90" y1="493.72" x2="403.90" y2="493.72" stroke="#000" stroke-width="1.65" />
<text x="399.50" y="649.10" font-size="12.2" text-anchor="end" >0</text>
<text x="399.50" y="630.24" font-size="12.2" text-anchor="end" >2</text>
<text x="399.50" y="611.38" font-size="12.2" text-anchor="end" >4</text>
<text x="399.50" y="592.52" font-size="12.2" text-anchor="end" >6</text>
<text x="399.50" y="573.66" font-size="12.2" text-anchor="end" >8</text>
<text x="399.50" y="554.80" font-size="12.2" text-anchor="end" >10</text>
<text x="399.50" y="535.94" font-size="12.2" text-anchor="end" >12</text>
<text x="399.50" y="517.08" font-size="12.2" text-anchor="end" >14</text>
<text x="399.50" y="498.22" font-size="12.2" text-anchor="end" >16</text>
<line x1="443.90" y1="644.60" x2="443.90" y2="648.20" stroke="#000" stroke-width="1.65" />
<line x1="483.90" y1="644.60" x2="483.90" y2="648.20" stroke="#000" stroke-width="1.65" />
<line x1="523.90" y1="644.60" x2="523.90" y2="648.20" stroke="#000" stroke-width="1.65" />
<line x1="563.90" y1="644.60" x2="563.90" y2="648.20" stroke="#000" stroke-width="1.65" />
<line x1="603.90" y1="644.60" x2="603.90" y2="648.20" stroke="#000" stroke-width="1.65" />
<line x1="643.90" y1="644.60" x2="643.90" y2="648.20" stroke="#000" stroke-width="1.65" />
<line x1="683.90" y1="644.60" x2="683.90" y2="648.20" stroke="#000" stroke-width="1.65" />
<text x="465.50" y="662.00" font-size="12.2" text-anchor="middle" >0.001</text>
<text x="505.50" y="662.00" font-size="12.2" text-anchor="middle" >0.01</text>
<text x="545.50" y="662.00" font-size="12.2" text-anchor="middle" >0.1</text>
<text x="585.50" y="662.00" font-size="12.2" text-anchor="middle" >0.5</text>
<text x="625.50" y="662.00" font-size="12.2" text-anchor="middle" >1.0</text>
<text x="665.50" y="662.00" font-size="12.2" text-anchor="middle" >5.0</text>
<text x="443.4" y="654.7" font-size="12.95" text-anchor="end" transform="rotate(-25.5 443.4 654.7)">Control</text>
<text x="371.2" y="20.8" font-size="17.2">b</text>
<circle cx="485.6" cy="21.00" r="4.85" fill="#0E7F80"/>
<text x="496.50" y="24.60" font-size="12.75" text-anchor="start" font-style="italic" >Microcystis aeruginosa</text>
<circle cx="485.6" cy="36.40" r="4.85" fill="#8ED35C"/>
<text x="496.50" y="40.00" font-size="12.75" text-anchor="start" font-style="italic" >Scenedesmus obliquus</text>
<circle cx="485.6" cy="51.80" r="4.85" fill="#D1990A"/>
<text x="496.50" y="55.40" font-size="12.75" text-anchor="start" font-style="italic" >Nitzschia palea</text>
<text x="418.50" y="98.00" font-size="16.9" text-anchor="start" >Specific growth rate (<tspan font-style="italic">μ</tspan>)</text>
<text x="419.80" y="299.90" font-size="16.9" text-anchor="start" >Intrinsic growth rate (<tspan font-style="italic">r</tspan>)</text>
<text x="419.80" y="499.80" font-size="16.9" text-anchor="start" >Carrying capacity (<tspan font-style="italic">K</tspan>)</text>
<text x="372.3" y="168.4" font-size="12.6" text-anchor="middle" transform="rotate(-90 372.3 168.4)"><tspan font-style="italic">μ</tspan> (d<tspan dy="-3.9" font-size="7.7">−1</tspan><tspan dy="3.9">)</tspan></text>
<text x="372.3" y="365.2" font-size="12.6" text-anchor="middle" transform="rotate(-90 372.3 365.2)"><tspan font-style="italic">r</tspan> (d<tspan dy="-3.9" font-size="7.7">−1</tspan><tspan dy="3.9">)</tspan></text>
<text x="372.3" y="569.8" font-size="12.6" text-anchor="middle" transform="rotate(-90 372.3 569.8)"><tspan font-style="italic">K</tspan> (10<tspan dy="-3.9" font-size="7.7">6</tspan><tspan dy="3.9"> cells ml</tspan><tspan dy="-3.9" font-size="7.7">−1</tspan><tspan dy="3.9">)</tspan></text>
<text x="558.3" y="678.9" font-size="12.75" text-anchor="middle">Treatment (extract concentration: g L<tspan dy="-3.9" font-size="7.7">−1</tspan><tspan dy="3.9">)</tspan></text>
<circle cx="423.60" cy="110.60" r="4.35" fill="#0E7F80"/>
<circle cx="463.70" cy="113.10" r="4.35" fill="#0E7F80"/>
<circle cx="503.80" cy="111.40" r="4.35" fill="#0E7F80"/>
<circle cx="543.90" cy="109.40" r="4.35" fill="#0E7F80"/>
<circle cx="584.00" cy="110.20" r="4.35" fill="#0E7F80"/>
<circle cx="624.10" cy="111.40" r="4.35" fill="#0E7F80"/>
<circle cx="664.20" cy="189.10" r="4.35" fill="#0E7F80"/>
<circle cx="423.60" cy="115.90" r="4.35" fill="#8ED35C"/>
<circle cx="463.70" cy="118.00" r="4.35" fill="#8ED35C"/>
<circle cx="503.80" cy="120.00" r="4.35" fill="#8ED35C"/>
<circle cx="543.90" cy="114.70" r="4.35" fill="#8ED35C"/>
<circle cx="584.00" cy="115.40" r="4.35" fill="#8ED35C"/>
<circle cx="624.10" cy="118.70" r="4.35" fill="#8ED35C"/>
<circle cx="664.20" cy="121.30" r="4.35" fill="#8ED35C"/>
<circle cx="423.60" cy="171.10" r="4.35" fill="#D1990A"/>
<circle cx="463.70" cy="170.10" r="4.35" fill="#D1990A"/>
<circle cx="503.80" cy="173.60" r="4.35" fill="#D1990A"/>
<circle cx="543.90" cy="179.30" r="4.35" fill="#D1990A"/>
<circle cx="584.00" cy="173.50" r="4.35" fill="#D1990A"/>
<circle cx="624.10" cy="171.50" r="4.35" fill="#D1990A"/>
<circle cx="664.20" cy="153.60" r="4.35" fill="#D1990A"/>
<circle cx="668.70" cy="147.90" r="1.05" fill="#D1990A"/>
<circle cx="671.70" cy="147.90" r="1.05" fill="#D1990A"/>
<circle cx="674.70" cy="147.90" r="1.05" fill="#D1990A"/>
<circle cx="668.60" cy="183.20" r="1.05" fill="#0E7F80"/>
<circle cx="671.60" cy="183.20" r="1.05" fill="#0E7F80"/>
<circle cx="674.60" cy="183.20" r="1.05" fill="#0E7F80"/>
<line x1="423.00" y1="319.70" x2="423.00" y2="332.40" stroke="#0E7F80" stroke-width="1.5" />
<circle cx="423.00" cy="326.30" r="4.35" fill="#0E7F80"/>
<circle cx="463.20" cy="332.00" r="4.35" fill="#0E7F80"/>
<line x1="501.50" y1="323.40" x2="501.50" y2="338.50" stroke="#0E7F80" stroke-width="1.5" />
<circle cx="501.50" cy="331.40" r="4.35" fill="#0E7F80"/>
<circle cx="541.40" cy="325.40" r="4.35" fill="#0E7F80"/>
<line x1="583.40" y1="312.60" x2="583.40" y2="318.90" stroke="#0E7F80" stroke-width="1.5" />
<circle cx="583.40" cy="318.90" r="4.35" fill="#0E7F80"/>
<circle cx="620.80" cy="322.40" r="4.35" fill="#0E7F80"/>
<circle cx="663.50" cy="405.50" r="4.35" fill="#0E7F80"/>
<line x1="423.00" y1="338.50" x2="423.00" y2="343.20" stroke="#8ED35C" stroke-width="1.5" />
<circle cx="423.00" cy="343.20" r="4.35" fill="#8ED35C"/>
<circle cx="463.20" cy="339.20" r="4.35" fill="#8ED35C"/>
<circle cx="505.60" cy="331.00" r="4.35" fill="#8ED35C"/>
<circle cx="545.30" cy="329.40" r="4.35" fill="#8ED35C"/>
<line x1="583.40" y1="327.00" x2="583.40" y2="332.90" stroke="#8ED35C" stroke-width="1.5" />
<circle cx="583.40" cy="327.00" r="4.35" fill="#8ED35C"/>
<line x1="625.40" y1="314.90" x2="625.40" y2="328.20" stroke="#8ED35C" stroke-width="1.5" />
<circle cx="625.40" cy="321.70" r="4.35" fill="#8ED35C"/>
<line x1="663.50" y1="312.60" x2="663.50" y2="326.60" stroke="#8ED35C" stroke-width="1.5" />
<circle cx="663.50" cy="319.60" r="4.35" fill="#8ED35C"/>
<line x1="423.00" y1="351.40" x2="423.00" y2="356.50" stroke="#D1990A" stroke-width="1.5" />
<circle cx="423.00" cy="351.40" r="4.35" fill="#D1990A"/>
<line x1="463.20" y1="345.70" x2="463.20" y2="351.40" stroke="#D1990A" stroke-width="1.5" />
<circle cx="463.20" cy="345.70" r="4.35" fill="#D1990A"/>
<line x1="503.10" y1="345.90" x2="503.10" y2="363.70" stroke="#D1990A" stroke-width="1.5" />
<circle cx="503.10" cy="354.90" r="4.35" fill="#D1990A"/>
<line x1="543.20" y1="350.90" x2="543.20" y2="360.90" stroke="#D1990A" stroke-width="1.5" />
<circle cx="543.20" cy="355.80" r="4.35" fill="#D1990A"/>
<line x1="583.40" y1="345.30" x2="583.40" y2="355.10" stroke="#D1990A" stroke-width="1.5" />
<circle cx="583.40" cy="350.40" r="4.35" fill="#D1990A"/>
<line x1="623.10" y1="332.40" x2="623.10" y2="351.60" stroke="#D1990A" stroke-width="1.5" />
<circle cx="623.10" cy="341.80" r="4.35" fill="#D1990A"/>
<line x1="663.50" y1="357.40" x2="663.50" y2="379.20" stroke="#D1990A" stroke-width="1.5" />
<circle cx="663.50" cy="367.90" r="4.35" fill="#D1990A"/>
<circle cx="590.40" cy="322.00" r="1.05" fill="#8ED35C"/>
<circle cx="630.00" cy="314.80" r="1.05" fill="#8ED35C"/>
<circle cx="633.00" cy="314.80" r="1.05" fill="#8ED35C"/>
<circle cx="668.70" cy="313.10" r="1.05" fill="#8ED35C"/>
<circle cx="671.70" cy="313.10" r="1.05" fill="#8ED35C"/>
<circle cx="670.00" cy="399.70" r="1.05" fill="#0E7F80"/>
<circle cx="673.00" cy="399.70" r="1.05" fill="#0E7F80"/>
<line x1="422.40" y1="513.70" x2="422.40" y2="537.60" stroke="#0E7F80" stroke-width="1.5" />
<circle cx="422.40" cy="525.40" r="4.35" fill="#0E7F80"/>
<circle cx="464.30" cy="528.40" r="4.35" fill="#0E7F80"/>
<line x1="504.50" y1="510.20" x2="504.50" y2="523.30" stroke="#0E7F80" stroke-width="1.5" />
<circle cx="504.50" cy="516.80" r="4.35" fill="#0E7F80"/>
<line x1="544.20" y1="516.90" x2="544.20" y2="529.00" stroke="#0E7F80" stroke-width="1.5" />
<circle cx="544.20" cy="523.20" r="4.35" fill="#0E7F80"/>
<line x1="584.10" y1="523.90" x2="584.10" y2="537.20" stroke="#0E7F80" stroke-width="1.5" />
<circle cx="584.10" cy="530.90" r="4.35" fill="#0E7F80"/>
<line x1="624.30" y1="523.90" x2="624.30" y2="535.60" stroke="#0E7F80" stroke-width="1.5" />
<circle cx="624.30" cy="529.50" r="4.35" fill="#0E7F80"/>
<circle cx="664.60" cy="632.90" r="4.35" fill="#0E7F80"/>
<line x1="426.50" y1="527.40" x2="426.50" y2="532.10" stroke="#8ED35C" stroke-width="1.5" />
<circle cx="426.50" cy="527.40" r="4.35" fill="#8ED35C"/>
<circle cx="464.30" cy="542.70" r="4.35" fill="#8ED35C"/>
<line x1="504.50" y1="532.70" x2="504.50" y2="541.30" stroke="#8ED35C" stroke-width="1.5" />
<circle cx="504.50" cy="537.20" r="4.35" fill="#8ED35C"/>
<circle cx="544.20" cy="540.30" r="4.35" fill="#8ED35C"/>
<circle cx="584.10" cy="545.40" r="4.35" fill="#8ED35C"/>
<line x1="624.30" y1="544.20" x2="624.30" y2="555.90" stroke="#8ED35C" stroke-width="1.5" />
<circle cx="624.30" cy="550.10" r="4.35" fill="#8ED35C"/>
<line x1="664.50" y1="552.00" x2="664.50" y2="563.60" stroke="#8ED35C" stroke-width="1.5" />
<circle cx="664.50" cy="557.10" r="4.35" fill="#8ED35C"/>
<circle cx="424.20" cy="629.70" r="4.35" fill="#D1990A"/>
<circle cx="464.30" cy="628.80" r="4.35" fill="#D1990A"/>
<circle cx="503.90" cy="630.90" r="4.35" fill="#D1990A"/>
<circle cx="544.00" cy="631.70" r="4.35" fill="#D1990A"/>
<circle cx="584.10" cy="630.10" r="4.35" fill="#D1990A"/>
<circle cx="624.50" cy="630.10" r="4.35" fill="#D1990A"/>
<circle cx="664.60" cy="612.50" r="4.35" fill="#D1990A"/>
<circle cx="590.40" cy="540.80" r="1.05" fill="#8ED35C"/>
<circle cx="629.00" cy="544.30" r="1.05" fill="#8ED35C"/>
<circle cx="632.00" cy="544.30" r="1.05" fill="#8ED35C"/>
<circle cx="669.40" cy="552.50" r="1.05" fill="#8ED35C"/>
<circle cx="672.40" cy="552.50" r="1.05" fill="#8ED35C"/>
<circle cx="675.40" cy="552.50" r="1.05" fill="#8ED35C"/>
<circle cx="670.10" cy="606.50" r="1.05" fill="#D1990A"/>
<circle cx="673.10" cy="606.50" r="1.05" fill="#D1990A"/>
<circle cx="676.10" cy="606.50" r="1.05" fill="#D1990A"/>
<circle cx="670.10" cy="627.70" r="1.05" fill="#0E7F80"/>
<circle cx="673.10" cy="627.70" r="1.05" fill="#0E7F80"/>
<circle cx="676.10" cy="627.70" r="1.05" fill="#0E7F80"/>
</svg>
</body></html>
